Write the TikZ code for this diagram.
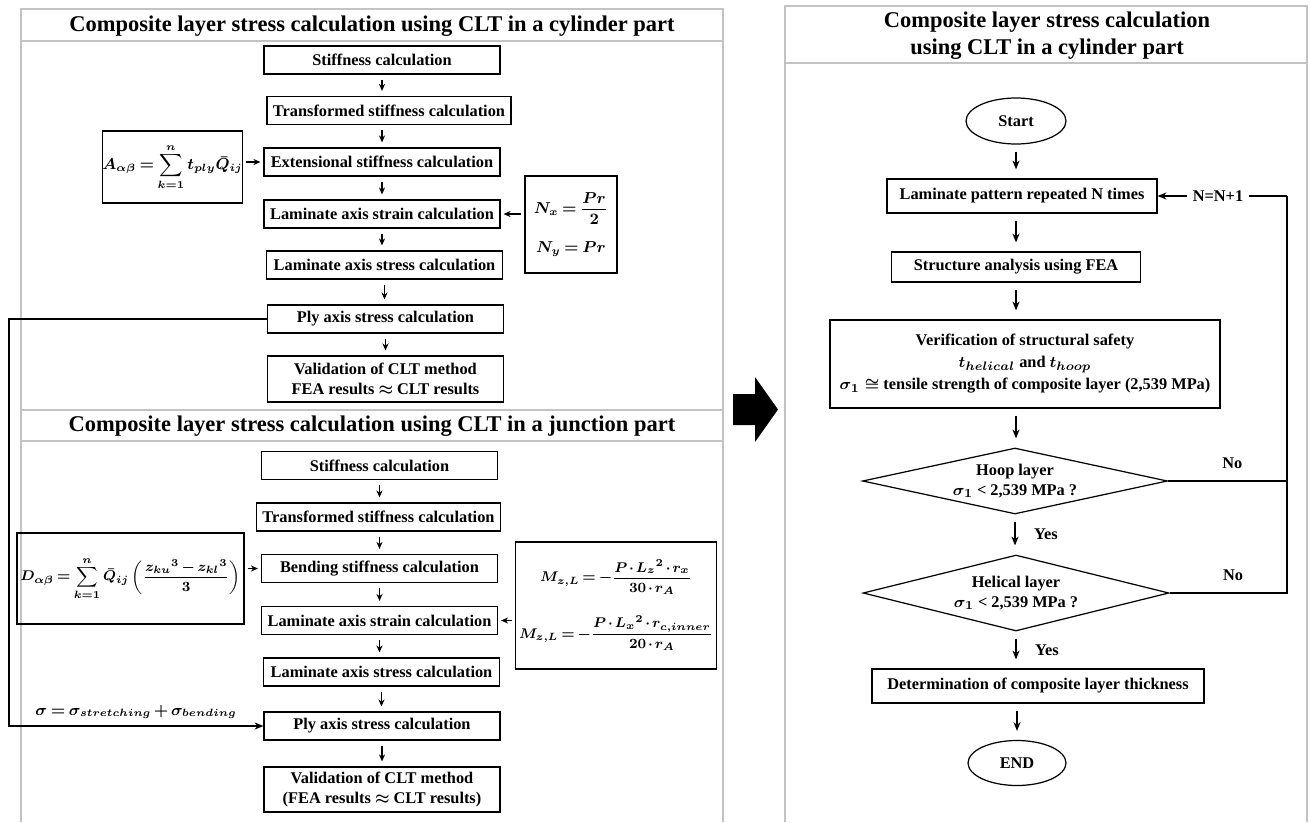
\documentclass[tikz,border=0pt]{standalone}
\usepackage{amsmath}
\usepackage{fontspec}
\setmainfont{Liberation Serif}
\usetikzlibrary{shapes.geometric,arrows.meta}
\definecolor{framegray}{RGB}{195,195,195}
\newcommand{\tightmath}{\thickmuskip=3.5mu\relax\medmuskip=2.5mu\relax}
\newcommand{\tightermath}{\thickmuskip=3mu\relax\medmuskip=2mu\relax}

\begin{document}
\begin{tikzpicture}[x=0.02cm,y=-0.02cm,
  font=\fontsize{9.3}{11.5}\selectfont\bfseries\boldmath,
  calcbox/.style={draw,line width=0.7pt,minimum width=4.72cm,minimum height=0.56cm,inner xsep=0.12cm,inner ysep=0pt},
  eqfont/.style={font=\fontsize{8.6}{10.5}\selectfont\bfseries\boldmath\tightmath},
  eqbox/.style={draw,line width=0.7pt,eqfont,align=center,inner sep=0pt},
  titletext/.style={font=\fontsize{12.8}{15.3}\selectfont\bfseries,align=center},
  panelline/.style={draw=framegray,line width=1pt},
  arr/.style={-{Stealth[length=4pt,width=3.5pt]},line width=0.7pt,shorten <=0.1cm,shorten >=0.1cm},
  arrtwo/.style={-{Stealth[length=5pt,width=4pt]},line width=0.8pt,shorten <=0.14cm,shorten >=0.18cm},
  loopline/.style={line width=1.2pt},
  decision/.style={diamond,aspect=4.6,draw,line width=0.7pt,align=center,inner sep=0pt},
  terminal/.style={ellipse,draw,line width=0.7pt,minimum width=2cm,minimum height=0.92cm,inner sep=0pt}]

\useasboundingbox (0,0) rectangle (1309,822);

\begin{scope}
\draw[panelline] (21,822) -- (21,9) -- (723,9) -- (723,822);
\draw[panelline] (21,41) -- (723,41);
\draw[panelline] (21,410) -- (723,410);
\draw[panelline] (21,441) -- (723,441);
\node[titletext] (cyltitle) at (372,26) {Composite layer stress calculation using CLT in a cylinder part};
\node[titletext] (jnctitle) at (372,426) {Composite layer stress calculation using CLT in a junction part};

\node[calcbox] (cstiff) at (382,60) {Stiffness calculation};
\node[calcbox] (ctrans) at (389,110.5) {Transformed stiffness calculation};
\node[calcbox] (cext) at (382,162) {Extensional stiffness calculation};
\node[calcbox] (cstrain) at (382,214) {Laminate axis strain calculation};
\node[calcbox] (cstress) at (384.5,265) {Laminate axis stress calculation};
\node[calcbox] (cply) at (385.5,319) {Ply axis stress calculation};
\node[calcbox,align=center,minimum height=0.92cm] (cvalid) at (385.5,379) {Validation of CLT method\\FEA results $\approx$ CLT results};
\node[eqbox,minimum width=2.7cm,minimum height=1.44cm] (aform) at (172.5,167) {$\displaystyle A_{\alpha\beta}=\sum_{k=1}^{n} t_{ply}\bar{Q}_{ij}$};
\node[eqbox,minimum width=1.84cm,minimum height=1.94cm] (nform) at (571,224.5) {$N_x=\dfrac{Pr}{2}$\\[9pt]$N_y=Pr$};

\draw[arr] (cstiff.south) -- (cstiff.south |- ctrans.north);
\draw[arr] (cstiff.south |- ctrans.south) -- (cstiff.south |- cext.north);
\draw[arr] (cext.south) -- (cext.south |- cstrain.north);
\draw[arr] (cstrain.south) -- (cstrain.south |- cstress.north);
\draw[arr] (cstress.south) -- (cstress.south |- cply.north);
\draw[arr] (cply.south) -- (cply.south |- cvalid.north);
\draw[arr,shorten <=0.06cm,shorten >=0.06cm] (aform.east |- cext) -- (cext.west);
\draw[arr,shorten <=0.06cm,shorten >=0.06cm] (nform.west |- cstrain) -- (cstrain.east);
\end{scope}

\begin{scope}
\node[calcbox] (jstiff) at (379.5,465.5) {Stiffness calculation};
\node[calcbox] (jtrans) at (378.5,517) {Transformed stiffness calculation};
\node[calcbox] (jbend) at (379.5,568.5) {Bending stiffness calculation};
\node[calcbox] (jstrain) at (379.5,620.5) {Laminate axis strain calculation};
\node[calcbox] (jstress) at (381.5,672) {Laminate axis stress calculation};
\node[calcbox] (jply) at (382,726) {Ply axis stress calculation};
\node[calcbox,align=center,minimum height=0.9cm] (jvalid) at (382,789.5) {Validation of CLT method\\(FEA results $\approx$ CLT results)};
\node[eqbox,minimum width=4.38cm,minimum height=1.82cm,inner xsep=2pt,font=\fontsize{8.1}{10}\selectfont\bfseries\boldmath\tightmath] (dform) at (130.5,578.5) {$\displaystyle D_{\alpha\beta}=\sum_{k=1}^{n}\bar{Q}_{ij}\left(\frac{{z_{ku}}^{3}-{z_{kl}}^{3}}{3}\right)$};
\node[eqbox,minimum width=3.84cm,minimum height=2.54cm,inner xsep=2pt,font=\fontsize{7.9}{10}\selectfont\bfseries\boldmath\tightermath] (mform) at (616,605.5) {$M_{z,L}=-\dfrac{P\cdot{L_z}^{2}\cdot r_x}{30\cdot r_A}$\\[11pt]$M_{z,L}=-\dfrac{P\cdot{L_x}^{2}\cdot r_{c,inner}}{20\cdot r_A}$};
\node[eqfont] (sumlabel) at (136,712) {$\sigma=\sigma_{stretching}+\sigma_{bending}$};

\draw[arr] (jstiff.south) -- (jstiff.south |- jtrans.north);
\draw[arr] (jstiff.south |- jtrans.south) -- (jstiff.south |- jbend.north);
\draw[arr] (jbend.south) -- (jbend.south |- jstrain.north);
\draw[arr] (jstrain.south) -- (jstrain.south |- jstress.north);
\draw[arr] (jstress.south) -- (jstress.south |- jply.north);
\draw[arr] (jply.south) -- (jply.south |- jvalid.north);
\draw[arr,shorten <=0.06cm,shorten >=0.06cm] (dform.east |- jbend) -- (jbend.west);
\draw[arr,shorten <=0.06cm,shorten >=0.06cm] (mform.west |- jstrain) -- (jstrain.east);

\coordinate (lbend) at (9,500);
\draw[loopline,-{Stealth[length=5pt,width=4pt]}] (cply.west) -| (lbend) |- (jply.west);
\end{scope}

\fill (733,394) -- (755,394) -- (755,377) -- (778,409.5) -- (755,442) -- (755,425) -- (733,425) -- cycle;

\begin{scope}
\draw[panelline] (785,822) -- (785,6) -- (1307,6) -- (1307,822);
\draw[panelline] (785,63) -- (1307,63);
\node[titletext] (rtitle) at (1047,36) {Composite layer stress calculation\\using CLT in a cylinder part};

\node[terminal] (start) at (1016,121) {Start};
\node[calcbox,minimum width=5.4cm,minimum height=0.68cm] (lam) at (1022,196) {Laminate pattern repeated N times};
\node[calcbox,minimum width=4.98cm,minimum height=0.6cm] (fea) at (1016,267) {Structure analysis using FEA};
\node[calcbox,align=center,minimum width=7.8cm,minimum height=1.76cm,font=\fontsize{9.3}{12.5}\selectfont\bfseries\boldmath] (verify) at (1025,364) {Verification of structural safety\\$t_{helical}$ and $t_{hoop}$\\$\sigma_1\cong$ tensile strength of composite layer (2,539 MPa)};
\node[decision,minimum width=6.1cm,minimum height=1.32cm] (hoop) at (1015,481) {Hoop layer\\$\sigma_1$ < 2,539 MPa ?};
\node[decision,minimum width=6.12cm,minimum height=1.52cm] (helix) at (1016,593) {Helical layer\\$\sigma_1$ < 2,539 MPa ?};
\node[calcbox,minimum width=6.64cm,minimum height=0.68cm] (thick) at (1038,686) {Determination of composite layer thickness};
\node[terminal,minimum width=1.96cm,minimum height=0.9cm] (endnode) at (1017,763) {END};

\draw[arrtwo] (start.south) -- (start.south |- lam.north);
\draw[arrtwo] (lam.south -| start) -- (fea.north -| start);
\draw[arrtwo] (fea.south -| start) -- (verify.north -| start);
\draw[arrtwo] (verify.south -| start) -- (hoop.north -| start);
\draw[arrtwo] (hoop.south) -- (hoop.south |- helix.north) node[midway,right=0.25cm] {Yes};
\draw[arrtwo] (helix.south) -- (helix.south |- thick.north) node[midway,right=0.25cm] {Yes};
\draw[arrtwo] (thick.south -| endnode) -- (endnode.north);

\coordinate (rbend) at (1287,196);
\node (incr) at (1218,196) {N=N+1};
\draw[loopline] (hoop.east) -- (hoop.east -| rbend) node[pos=0.54,above=3pt] {No};
\draw[loopline] (helix.east) -- (helix.east -| rbend) node[pos=0.54,above=3pt] {No} -- (rbend);
\draw[loopline] (rbend) -- (incr.east);
\draw[loopline,-{Stealth[length=5pt,width=4pt]}] (incr.west) -- (lam.east);
\end{scope}

\end{tikzpicture}
\end{document}
